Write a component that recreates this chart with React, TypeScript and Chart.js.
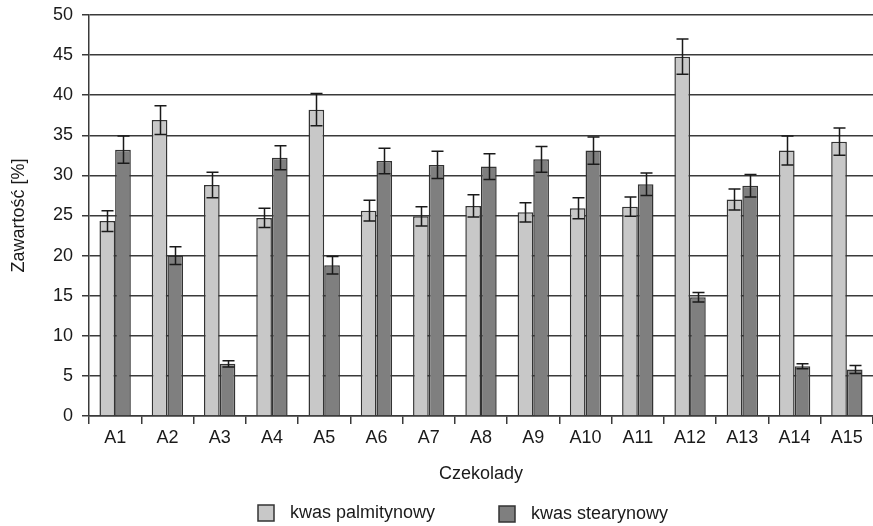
import React, { useEffect, useRef } from "react";
import { Chart, registerables } from "chart.js";

Chart.register(...registerables);

const categories = ["A1", "A2", "A3", "A4", "A5", "A6", "A7", "A8", "A9", "A10", "A11", "A12", "A13", "A14", "A15"];
const palmitic = [24.3, 36.9, 28.8, 24.7, 38.2, 25.6, 24.9, 26.2, 25.4, 25.9, 26.1, 44.8, 27.0, 33.1, 34.2];
const palmiticErr = [1.3, 1.8, 1.6, 1.2, 2.0, 1.3, 1.2, 1.4, 1.2, 1.3, 1.2, 2.2, 1.3, 1.8, 1.7];
const stearic = [33.2, 20.0, 6.5, 32.2, 18.8, 31.8, 31.3, 31.1, 32.0, 33.1, 28.9, 14.8, 28.7, 6.2, 5.8];
const stearicErr = [1.7, 1.1, 0.4, 1.5, 1.1, 1.6, 1.7, 1.6, 1.6, 1.7, 1.4, 0.6, 1.4, 0.3, 0.5];
const seriesNames = ["kwas palmitynowy", "kwas stearynowy"];
const yMin = 0;
const yMax = 50;
const yStep = 5;
const xTitle = "Czekolady";
const yTitle = "Zawartość [%]";

const FONT = "'Liberation Sans', Arial, sans-serif";
const FS = 18;
const TEXT = "#1a1a1a";
const LINE = "#3a3a3a";
const fills = ["#c8c8c8", "#7f7f7f"];
const errors = [palmiticErr, stearicErr];

const errorBarPlugin = {
  id: "errorBars",
  afterDatasetsDraw(chart: any) {
    const ctx = chart.ctx;
    const y = chart.scales.y;
    chart.data.datasets.forEach((ds: any, i: number) => {
      const meta = chart.getDatasetMeta(i);
      meta.data.forEach((bar: any, j: number) => {
        const v = ds.data[j];
        const e = errors[i][j];
        const yt = y.getPixelForValue(v + e);
        const yb = y.getPixelForValue(v - e);
        const x = Math.round(bar.x) + 0.5;
        ctx.save();
        ctx.strokeStyle = TEXT;
        ctx.lineWidth = 1.5;
        ctx.beginPath();
        ctx.moveTo(x, yt);
        ctx.lineTo(x, yb);
        ctx.moveTo(x - 6, yt);
        ctx.lineTo(x + 6, yt);
        ctx.moveTo(x - 6, yb);
        ctx.lineTo(x + 6, yb);
        ctx.stroke();
        ctx.restore();
      });
    });
  },
};

const legendPlugin = {
  id: "customLegend",
  afterDraw(chart: any) {
    const ctx = chart.ctx;
    const items = [
      { x: 258, y: 513 },
      { x: 499, y: 514 },
    ];
    ctx.save();
    ctx.font = `${FS}px ${FONT}`;
    ctx.textBaseline = "middle";
    ctx.textAlign = "left";
    items.forEach((it, i) => {
      ctx.fillStyle = fills[i];
      ctx.fillRect(it.x, it.y - 8, 16, 16);
      ctx.strokeStyle = "#333";
      ctx.lineWidth = 1.5;
      ctx.strokeRect(it.x, it.y - 8, 16, 16);
      ctx.fillStyle = TEXT;
      ctx.fillText(seriesNames[i], it.x + 32, it.y);
    });
    ctx.restore();
  },
};

export default function App() {
  const ref = useRef<HTMLCanvasElement>(null);
  useEffect(() => {
    if (!ref.current) return;
    const chart = new Chart(ref.current, {
      type: "bar",
      data: {
        labels: categories,
        datasets: [
          {
            label: seriesNames[0],
            data: palmitic,
            backgroundColor: fills[0],
            borderColor: "#333",
            borderWidth: 1.5,
            categoryPercentage: 0.6,
            barPercentage: 1,
          },
          {
            label: seriesNames[1],
            data: stearic,
            backgroundColor: fills[1],
            borderColor: "#333",
            borderWidth: 1.5,
            categoryPercentage: 0.6,
            barPercentage: 1,
          },
        ],
      },
      options: {
        animation: false,
        responsive: true,
        maintainAspectRatio: false,
        layout: { padding: { top: 15, bottom: 36, left: 0, right: 0 } },
        plugins: {
          legend: { display: false },
          tooltip: { enabled: false },
        },
        scales: {
          x: {
            offset: true,
            grid: {
              offset: true,
              drawOnChartArea: false,
              drawTicks: true,
              tickLength: 8,
              color: LINE,
              lineWidth: 1.5,
            },
            border: { display: true, color: LINE, width: 1.5 },
            ticks: { color: TEXT, font: { family: FONT, size: FS }, padding: 3, maxRotation: 0, autoSkip: false },
            title: {
              display: true,
              text: xTitle,
              color: TEXT,
              font: { family: FONT, size: FS },
              padding: { top: 0, bottom: 5 },
            },
            afterFit(scale: any) {
              scale.height = 74;
              scale.paddingLeft = 0;
              scale.paddingRight = 0;
            },
          },
          y: {
            min: yMin,
            max: yMax,
            grid: { color: LINE, lineWidth: 1.5, tickLength: 7 },
            border: { display: true, color: LINE, width: 1.5 },
            ticks: { stepSize: yStep, color: TEXT, font: { family: FONT, size: FS }, padding: 9 },
            title: {
              display: true,
              text: yTitle,
              color: TEXT,
              font: { family: FONT, size: FS },
              padding: { top: 8, bottom: 0 },
            },
            afterFit(scale: any) {
              scale.width = 89;
              scale.paddingTop = 0;
              scale.paddingBottom = 0;
            },
          },
        },
      },
      plugins: [errorBarPlugin, legendPlugin],
    });
    return () => chart.destroy();
  }, []);
  return (
    <div style={{ position: "fixed", left: 0, top: 0, width: 873, height: 526, background: "#fff" }}>
      <canvas ref={ref} />
    </div>
  );
}
